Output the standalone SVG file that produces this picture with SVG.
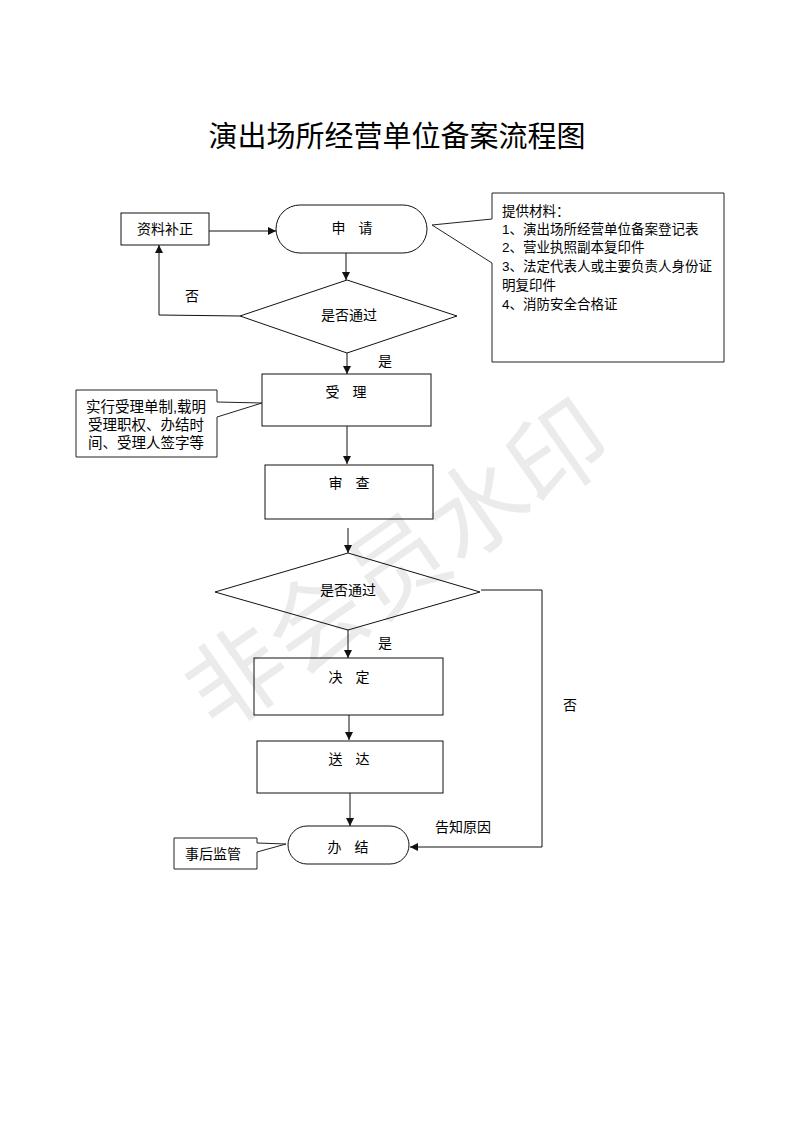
<svg xmlns="http://www.w3.org/2000/svg" width="793" height="1122" viewBox="0 0 793 1122">
<style>
  .shape{fill:none;stroke:#111;stroke-width:1}
  .call{fill:#fff;stroke:#222;stroke-width:1}
  .edge{fill:none;stroke:#111;stroke-width:1}
  text{font-family:"Liberation Sans","Noto Sans CJK SC",sans-serif;fill:#000}
  .lbl{font-size:14px;text-anchor:middle}
  .cl{font-size:14.5px;text-anchor:middle}
  .sp{word-spacing:9px}
  .note{font-size:13.5px}
  .title{font-size:29px;text-anchor:middle}
  .wm{font-size:98px;fill:#ebebeb;text-anchor:middle;font-family:"Noto Sans CJK SC",sans-serif;font-weight:400}
</style>
<defs>
  <marker id="arr" markerUnits="userSpaceOnUse" markerWidth="8" markerHeight="8" viewBox="0 0 10 10" refX="10" refY="5" orient="auto">
    <path d="M0,0 L10,5 L0,10 z" fill="#111"/>
  </marker>
</defs>
<rect width="793" height="1122" fill="#fff"/>

<text class="wm" transform="translate(398,566) rotate(-35)" dy="34">非会员水印</text>

<text class="title" x="397" y="147">演出场所经营单位备案流程图</text>

<g id="connectors">
  <path class="edge" d="M209,231 H276" marker-end="url(#arr)"/>
  <path class="edge" d="M346,253 V280" marker-end="url(#arr)"/>
  <path class="edge" d="M240,316 L159,315 V245" marker-end="url(#arr)"/>
  <path class="edge" d="M347,353 V374" marker-end="url(#arr)"/>
  <path class="edge" d="M347,426 V464" marker-end="url(#arr)"/>
  <path class="edge" d="M348,528 V553" marker-end="url(#arr)"/>
  <path class="edge" d="M348,630 V658" marker-end="url(#arr)"/>
  <path class="edge" d="M349,715 V740" marker-end="url(#arr)"/>
  <path class="edge" d="M350,793 V826" marker-end="url(#arr)"/>
  <path class="edge" d="M481,590 H542 V847 H410" marker-end="url(#arr)"/>
  <text class="lbl" x="192" y="301">否</text>
  <text class="lbl" x="385" y="366">是</text>
  <text class="lbl" x="385" y="648">是</text>
  <text class="lbl" x="570" y="710">否</text>
  <text class="lbl" x="463" y="832">告知原因</text>
</g>

<g id="node-buzheng">
  <rect class="shape" x="121" y="213" width="88" height="32"/>
  <text class="lbl" x="165" y="234">资料补正</text>
</g>
<g id="node-shenqing">
  <rect class="shape" x="276" y="205" width="151" height="48" rx="24" ry="24"/>
  <text class="lbl sp" x="352" y="233">申 请</text>
</g>
<g id="node-callout-materials">
  <path class="call" d="M492,193 H724 V362 H492 V263 L432,225 L492,219 Z"/>
  <text class="note" x="502" y="216">提供材料：</text>
  <text class="note" x="502" y="234">1、演出场所经营单位备案登记表</text>
  <text class="note" x="502" y="252">2、营业执照副本复印件</text>
  <text class="note" x="502" y="271">3、法定代表人或主要负责人身份证</text>
  <text class="note" x="502" y="290">明复印件</text>
  <text class="note" x="502" y="309">4、消防安全合格证</text>
</g>
<g id="node-decision1">
  <polygon class="shape" points="347,280 457,316 347,353 240,316"/>
  <text class="lbl" x="349" y="320">是否通过</text>
</g>
<g id="node-shouli">
  <rect class="shape" x="262" y="374" width="169" height="52"/>
  <text class="lbl sp" x="346" y="397">受 理</text>
</g>
<g id="node-callout-shouli">
  <path class="call" d="M76,390 H217 V402 L262,403 L217,417 V457 H76 Z"/>
  <text class="cl" x="146" y="412">实行受理单制,载明</text>
  <text class="cl" x="146" y="430">受理职权、办结时</text>
  <text class="cl" x="146" y="448">间、受理人签字等</text>
</g>
<g id="node-shencha">
  <rect class="shape" x="265" y="465" width="168" height="54"/>
  <text class="lbl sp" x="349" y="488">审 查</text>
</g>
<g id="node-decision2">
  <polygon class="shape" points="348,553 480,592 348,630 215,592"/>
  <text class="lbl" x="348" y="595">是否通过</text>
</g>
<g id="node-jueding">
  <rect class="shape" x="254" y="658" width="189" height="57"/>
  <text class="lbl sp" x="349" y="682">决 定</text>
</g>
<g id="node-songda">
  <rect class="shape" x="257" y="741" width="186" height="52"/>
  <text class="lbl sp" x="349" y="764">送 达</text>
</g>
<g id="node-banjie">
  <rect class="shape" x="288" y="826" width="121" height="38" rx="19" ry="19"/>
  <text class="lbl sp" x="348" y="852">办 结</text>
</g>
<g id="node-callout-jianguan">
  <path class="call" d="M174,838 H257 V843 L286,844 L257,852 V869 H174 Z"/>
  <text class="lbl" x="213" y="859">事后监管</text>
</g>
</svg>
